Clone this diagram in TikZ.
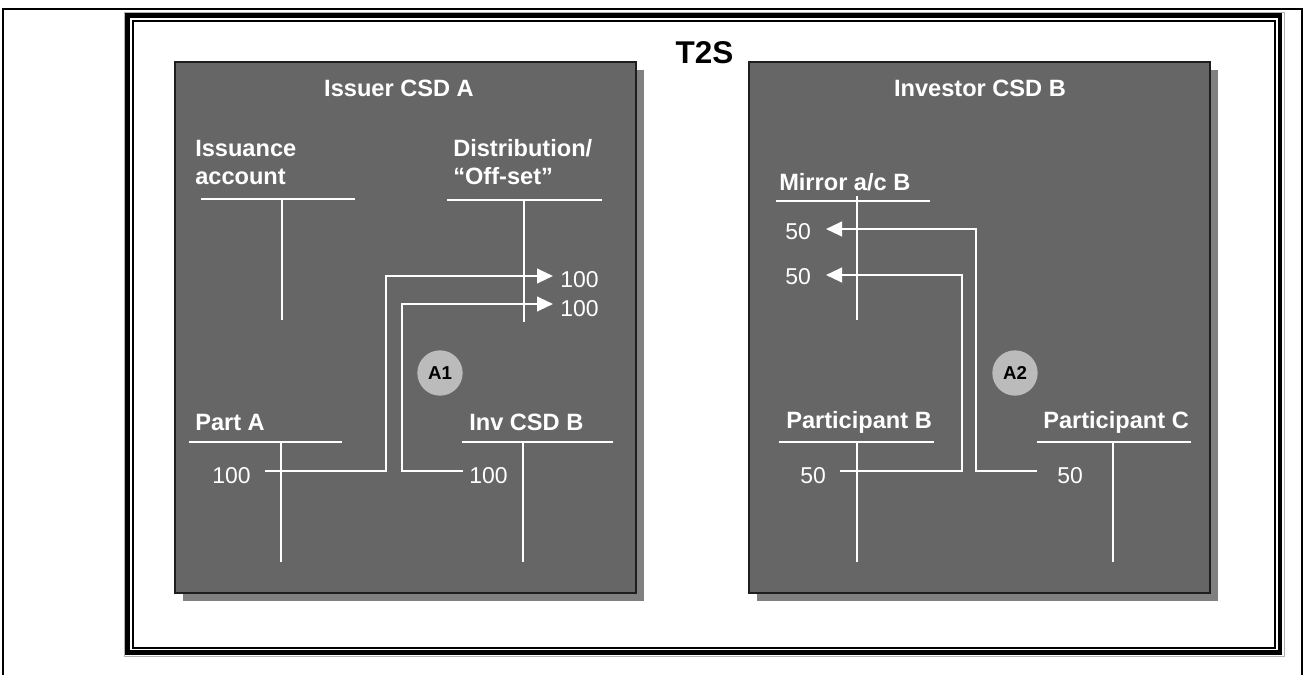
\documentclass[tikz,border=0pt]{standalone}
\usepackage{fontspec}
\setmainfont{Liberation Sans}
\usepackage{xcolor}
\usetikzlibrary{arrows.meta}
\definecolor{csdfill}{HTML}{666666}
\definecolor{csdshade}{HTML}{808080}
\definecolor{csdedge}{HTML}{1E1E1E}
\definecolor{stepfill}{HTML}{BBBBBB}

\begin{document}
\begin{tikzpicture}[
  x=0.75pt, y=-0.75pt,
  hd/.style={text=white, font=\fontsize{17.7}{21}\selectfont\bfseries, inner sep=0pt, align=left},
  amt/.style={text=white, font=\fontsize{17.2}{20}\selectfont, inner sep=0pt},
  tacc/.style={draw=white, line width=1.6pt},
  flow/.style={draw=white, line width=1.6pt, -{Triangle[length=12pt, width=11pt]}},
  csd/.style={draw=csdedge, line width=1.8pt, fill=csdfill},
  stepmark/.style={circle, fill=stepfill, minimum size=34pt, inner sep=0pt, font=\fontsize{14}{16}\selectfont\bfseries}
]
  \useasboundingbox (0,0) rectangle (1304,675);
  \draw[line width=2pt] (3,675) -- (3,9) -- (1302,9) -- (1302,675);
  \draw[gray!60, line width=0.75pt] (124.5,12.5) rectangle (1284.5,656.5);
  \draw[line width=3.4pt] (127.7,15.7) rectangle (1280,652.3);
  \draw[line width=1.5pt] (133.3,21.3) rectangle (1275,648);
  \node[font=\fontsize{23.6}{26}\selectfont\bfseries, inner sep=0pt, anchor=base] (t2s) at (704.5,63) {T2S};

  \fill[csdshade] (183,70) rectangle (644,601);
  \draw[csd] (175,62) rectangle (636,593);
  \fill[csdshade] (757,70) rectangle (1218,601);
  \draw[csd] (749,62) rectangle (1210,593);

  \node[hd, anchor=base] (issuer) at (399,96) {Issuer CSD A};
  \node[hd, anchor=base] (investor) at (980,96) {Investor CSD B};

  \node[hd, anchor=north west] (issuance) at (195,140) {Issuance\\account};
  \node[hd, anchor=north west] (distrib) at (453,139) {Distribution/\\“Off-set”};
  \node[hd, anchor=base west] (parta) at (195,430) {Part A};
  \node[hd, anchor=base west] (invcsd) at (469,430) {Inv CSD B};
  \node[hd, anchor=base west] (mirror) at (779,190) {Mirror a/c B};
  \node[hd, anchor=base west] (partb) at (786,428) {Participant B};
  \node[hd, anchor=base west] (partc) at (1043,428) {Participant C};

  \draw[tacc] (201,199) -- (355,199) (282,199) -- (282,320);
  \draw[tacc] (447,200) -- (602,200) (524,200) -- (524,322);
  \draw[tacc] (189,442) -- (342,442) (281,442) -- (281,562);
  \draw[tacc] (462,442) -- (613,442) (523,442) -- (523,562);
  \draw[tacc] (776,201) -- (930,201) (857,196) -- (857,320);
  \draw[tacc] (779,442) -- (934,442) (857,442) -- (857,562);
  \draw[tacc] (1037,442) -- (1191,442) (1113,442) -- (1113,562);

  \node[amt, anchor=base] (pa100) at (231.5,483) {100};
  \node[amt, anchor=base] (inv100) at (488.5,483) {100};
  \node[amt, anchor=base west] (off100a) at (560,287) {100};
  \node[amt, anchor=base west] (off100b) at (560,316) {100};
  \node[amt, anchor=base west] (mir50a) at (785,239) {50};
  \node[amt, anchor=base west] (mir50b) at (785,284) {50};
  \node[amt, anchor=base] (pb50) at (813,483) {50};
  \node[amt, anchor=base] (pc50) at (1070,483) {50};

  \coordinate (paOut) at (265,471);
  \coordinate (invOut) at (463,471);
  \coordinate (pbOut) at (840,471);
  \coordinate (pcOut) at (1037,471);
  \coordinate (offInA) at (553,276);
  \coordinate (offInB) at (553,304);
  \coordinate (mirInA) at (826,229);
  \coordinate (mirInB) at (826,275);

  \draw[flow] (paOut) -- ++(121,0) |- (offInA);
  \draw[flow] (invOut) -- ++(-61,0) |- (offInB);
  \draw[flow] (pcOut) -- ++(-61,0) |- (mirInA);
  \draw[flow] (pbOut) -- ++(122,0) |- (mirInB);

  \node[stepmark] (a1) at (440,373) {A1};
  \node[stepmark] (a2) at (1015,373) {A2};
\end{tikzpicture}
\end{document}
